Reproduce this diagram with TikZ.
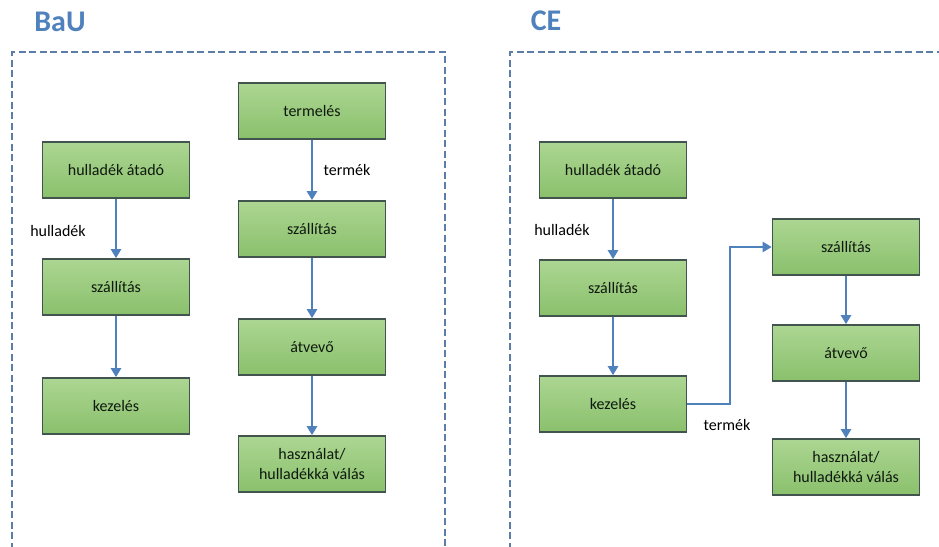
\documentclass[tikz,border=0pt]{standalone}
\usepackage{fontspec}
\setmainfont{Carlito}
\usetikzlibrary{arrows.meta,calc}
\definecolor{titleblue}{RGB}{79,129,189}
\definecolor{dashblue}{RGB}{92,125,168}
\definecolor{arrowblue}{RGB}{79,129,189}
\definecolor{gtop}{RGB}{172,214,146}
\definecolor{gbot}{RGB}{138,192,108}
\definecolor{gedge}{RGB}{66,84,78}
\definecolor{txt}{RGB}{15,25,15}
\tikzset{
  procbox/.style={draw=gedge, line width=1.6pt, top color=gtop, bottom color=gbot,
    minimum width=147pt, minimum height=56pt, align=center, inner sep=2pt,
    font=\fontsize{16}{19.5}\selectfont, text=txt},
  flow/.style={draw=arrowblue, line width=2.4pt, -{Triangle[length=9pt,width=10pt]}},
  lbl/.style={font=\fontsize{16}{19.5}\selectfont, text=black},
  ttl/.style={font=\fontsize{30}{34}\selectfont\bfseries, text=titleblue},
  frame/.style={draw=dashblue, line width=2.6pt, dash pattern=on 7pt off 3.5pt}
}
\begin{document}
\begin{tikzpicture}[x=1pt,y=-1pt]
\useasboundingbox (0,0) rectangle (939,546);
% titles
\node[ttl] (tbau) at (60,22) {BaU};
\node[ttl] (tce) at (546,21) {CE};
% frames
\draw[frame] (12,560) -- (12,52) -- (445,52) -- (445,560);
\draw[frame] (510,560) -- (510,52) -- (950,52);
% BaU left column
\node[procbox] (hat1) at (116,170) {hulladék átadó};
\node[procbox] (sz1) at (116,287) {szállítás};
\node[procbox] (kez1) at (116,406) {kezelés};
% BaU right column
\node[procbox] (term) at (312,111) {termelés};
\node[procbox] (sz2) at (312,229) {szállítás};
\node[procbox] (atv1) at (312,347) {átvevő};
\node[procbox] (hasz1) at (312,464) {használat/\\hulladékká válás};
% CE left column
\node[procbox] (hat2) at (613,170) {hulladék átadó};
\node[procbox] (sz3) at (613,288) {szállítás};
\node[procbox] (kez2) at (613,404) {kezelés};
% CE right column
\node[procbox] (sz4) at (846,247) {szállítás};
\node[procbox] (atv2) at (846,353) {átvevő};
\node[procbox] (hasz2) at (846,467) {használat/\\hulladékká válás};
% connectors
\draw[flow] (hat1) -- (sz1);
\draw[flow] (sz1) -- (kez1);
\draw[flow] (term) -- (sz2);
\draw[flow] (sz2) -- (atv1);
\draw[flow] (atv1) -- (hasz1);
\draw[flow] (hat2) -- (sz3);
\draw[flow] (sz3) -- (kez2);
\draw[flow] (sz4) -- (atv2);
\draw[flow] (atv2) -- (hasz2);
\coordinate (bend) at (730,404);
\draw[flow] (kez2.east) -- (bend) |- (sz4.west);
% labels
\node[lbl] (l1) at (58,231) {hulladék};
\node[lbl] (l2) at (347,170) {termék};
\node[lbl] (l3) at (562,230) {hulladék};
\node[lbl] (l4) at (727,425) {termék};
\end{tikzpicture}
\end{document}
